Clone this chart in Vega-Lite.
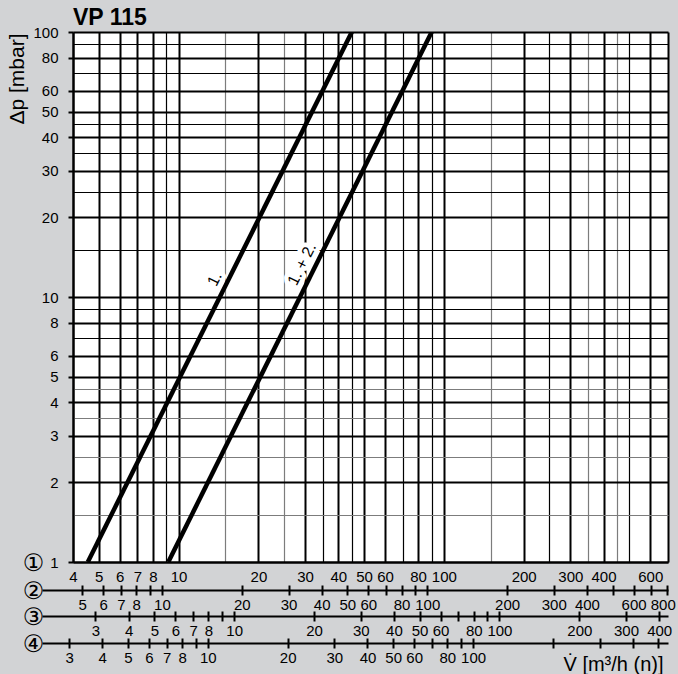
{
  "$schema": "https://vega.github.io/schema/vega-lite/v6.json",
  "width": 595,
  "height": 530,
  "autosize": {"type": "none"},
  "padding": {"left": 73, "top": 32, "right": 10, "bottom": 112},
  "background": "#d2d3d5",
  "config": {
    "view": {"fill": "white", "stroke": null},
    "font": "Liberation Sans",
    "axis": {
      "labelFont": "Liberation Sans",
      "labelColor": "black",
      "labelFontSize": 15,
      "domainColor": "black",
      "tickColor": "black",
      "titleColor": "black",
      "titleFontWeight": "normal",
      "labelFlush": false,
      "labelOverlap": false,
      "labelBound": false
    }
  },
  "title": {
    "text": "VP 115",
    "anchor": "start",
    "fontSize": 23,
    "fontWeight": "bold",
    "font": "Liberation Sans",
    "color": "black",
    "offset": 6,
    "dy": 29,
    "baseline": "alphabetic",
    "frame": "group"
  },
  "datasets": {
    "lines": [
      {"series": "1.", "v": 4.55, "dp": 1},
      {"series": "1.", "v": 45, "dp": 100},
      {"series": "1. + 2.", "v": 9.15, "dp": 1},
      {"series": "1. + 2.", "v": 90, "dp": 100}
    ],
    "labels": [
      {"label": "1.", "v": 13.7, "dp": 11.7},
      {"label": "1. + 2.", "v": 29.2, "dp": 13.3}
    ],
    "scale2": [{"q": 5}, {"q": 10}, {"q": 100}, {"q": 800}],
    "scale3": [{"q": 3}, {"q": 10}, {"q": 100}, {"q": 400}],
    "scale4": [{"q": 3}, {"q": 10}, {"q": 100}, {"q": 500}]
  },
  "layer": [
    {
      "layer": [
        {
          "data": {"name": "lines"},
          "mark": {"type": "line", "stroke": "black", "strokeWidth": 4.5, "strokeCap": "butt", "clip": true},
          "encoding": {
            "x": {
              "field": "v", "type": "quantitative",
              "scale": {"type": "log", "domain": [4, 700], "nice": false},
              "axis": {
                "orient": "bottom",
                "values": [4,5,6,7,8,9,10,15,20,25,30,35,40,45,50,60,70,80,90,100,150,200,250,300,350,400,450,500,600,700],
                "grid": true,
                "gridColor": {"condition": {"test": "indexof([15,25,150,350,450], datum.value) >= 0", "value": "#7c7c7c"}, "value": "black"},
                "gridWidth": {"condition": {"test": "indexof([9,15,25,35,45,70,90,150,250,350,450,500], datum.value) >= 0", "value": 1.2}, "value": 2},
                "gridOpacity": 1,
                "labelExpr": "indexof([4,5,6,7,8,10,20,30,40,50,60,80,100,200,300,400,600], datum.value) >= 0 ? format(datum.value, 'd') : ''",
                "ticks": false,
                "labelPadding": 7,
                "domain": true,
                "domainWidth": 2,
                "title": "①",
                "titleFont": "DejaVu Sans",
                "titleFontSize": 24,
                "titleX": -40,
                "titleY": 1,
                "titleAlign": "center",
                "titleBaseline": "middle",
                "titleAngle": 0
              }
            },
            "y": {
              "field": "dp", "type": "quantitative",
              "scale": {"type": "log", "domain": [1, 100], "nice": false},
              "axis": {
                "orient": "left",
                "values": [1,1.5,2,2.5,3,3.5,4,4.5,5,6,7,8,9,10,15,20,25,30,35,40,45,50,60,70,80,90,100],
                "grid": true,
                "gridColor": {"condition": {"test": "indexof([1.5,2.5,3.5,4.5], datum.value) >= 0", "value": "#7c7c7c"}, "value": "black"},
                "gridWidth": {"condition": {"test": "indexof([1.5,2.5,3.5,4.5,7,9,15,25,35,45,70,90], datum.value) >= 0", "value": 1.2}, "value": 2},
                "gridOpacity": 1,
                "labelExpr": "indexof([1,2,3,4,5,6,8,10,20,30,40,50,60,80,100], datum.value) >= 0 ? format(datum.value, 'd') : ''",
                "tickOpacity": {"condition": {"test": "indexof([1,2,3,4,5,6,8,10,20,30,40,50,60,80,100], datum.value) >= 0", "value": 1}, "value": 0},
                "tickSize": 5,
                "tickWidth": 2,
                "labelPadding": 10,
                "domain": true,
                "domainWidth": 2,
                "title": "Δp [mbar]",
                "titleFontSize": 21,
                "titleX": -56,
                "titleY": 1,
                "titleAngle": -90,
                "titleAlign": "right",
                "titleBaseline": "middle"
              }
            },
            "detail": {"field": "series"}
          }
        },
        {
          "data": {"name": "labels"},
          "mark": {"type": "text", "fontSize": 16, "angle": 296.6, "align": "center", "baseline": "middle", "fill": "white", "stroke": "white", "strokeWidth": 9, "strokeJoin": "round"},
          "encoding": {
            "x": {"field": "v", "type": "quantitative"},
            "y": {"field": "dp", "type": "quantitative"},
            "text": {"field": "label"}
          }
        },
        {
          "data": {"name": "labels"},
          "mark": {"type": "text", "fontSize": 16, "angle": 296.6, "align": "center", "baseline": "middle", "fill": "black"},
          "encoding": {
            "x": {"field": "v", "type": "quantitative"},
            "y": {"field": "dp", "type": "quantitative"},
            "text": {"field": "label"}
          }
        }
      ]
    },
    {
      "data": {"name": "scale2"},
      "mark": {"type": "point", "opacity": 0},
      "encoding": {
        "x": {
          "field": "q", "type": "quantitative",
          "scale": {"type": "log", "domain": [3.53, 808.5], "range": [-31, 595], "nice": false},
          "axis": {
            "orient": "bottom", "offset": 23, "domain": false, "grid": false,
            "ticks": true, "tickSize": 10, "tickWidth": 2,
            "values": [5,6,7,8,9,10,20,30,40,50,60,70,80,90,100,200,300,400,500,600,700,800],
            "labelExpr": "indexof([9,70,90,500,700], datum.value) >= 0 ? '' : format(datum.value, 'd')",
            "labelOffset": {"condition": {"test": "datum.value == 800", "value": -4}, "value": 0},
            "labelPadding": 2, "title": null
          }
        }
      }
    },
    {
      "data": {"name": "scale2"},
      "mark": {"type": "point", "opacity": 0},
      "encoding": {
        "x": {
          "field": "q", "type": "quantitative",
          "scale": {"type": "log", "domain": [3.53, 808.5], "range": [-31, 595], "nice": false},
          "axis": {
            "orient": "bottom", "offset": 28, "domain": true, "domainWidth": 2, "grid": false,
            "ticks": false, "labels": false,
            "title": "②", "titleFont": "DejaVu Sans", "titleFontSize": 24,
            "titleX": -40, "titleY": 1, "titleAlign": "center", "titleBaseline": "middle", "titleAngle": 0
          }
        }
      }
    },
    {
      "data": {"name": "scale3"},
      "mark": {"type": "point", "opacity": 0},
      "encoding": {
        "x": {
          "field": "q", "type": "quantitative",
          "scale": {"type": "log", "domain": [1.886, 431.9], "range": [-31, 595], "nice": false},
          "axis": {
            "orient": "bottom", "offset": 49, "domain": false, "grid": false,
            "ticks": true, "tickSize": 10, "tickWidth": 2,
            "values": [3,4,5,6,7,8,9,10,20,30,40,50,60,70,80,90,100,200,300,400],
            "labelExpr": "indexof([9,70,90], datum.value) >= 0 ? '' : format(datum.value, 'd')",
            "labelPadding": 2, "title": null
          }
        }
      }
    },
    {
      "data": {"name": "scale3"},
      "mark": {"type": "point", "opacity": 0},
      "encoding": {
        "x": {
          "field": "q", "type": "quantitative",
          "scale": {"type": "log", "domain": [1.886, 431.9], "range": [-31, 595], "nice": false},
          "axis": {
            "orient": "bottom", "offset": 54, "domain": true, "domainWidth": 2, "grid": false,
            "ticks": false, "labels": false,
            "title": "③", "titleFont": "DejaVu Sans", "titleFontSize": 24,
            "titleX": -40, "titleY": 1, "titleAlign": "center", "titleBaseline": "middle", "titleAngle": 0
          }
        }
      }
    },
    {
      "data": {"name": "scale4"},
      "mark": {"type": "point", "opacity": 0},
      "encoding": {
        "x": {
          "field": "q", "type": "quantitative",
          "scale": {"type": "log", "domain": [2.371, 543.2], "range": [-31, 595], "nice": false},
          "axis": {
            "orient": "bottom", "offset": 76, "domain": false, "grid": false,
            "ticks": true, "tickSize": 10, "tickWidth": 2,
            "values": [3,4,5,6,7,8,9,10,20,30,40,50,60,70,80,90,100,200,300,400,500],
            "labelExpr": "indexof([3,4,5,6,7,8,10,20,30,40,50,60,80,100], datum.value) >= 0 ? format(datum.value, 'd') : ''",
            "labelPadding": 2,
            "title": "V̇ [m³/h (n)]",
            "titleFontSize": 20,
            "titleX": 590, "titleY": 32, "titleAlign": "right", "titleBaseline": "alphabetic", "titleAngle": 0
          }
        }
      }
    },
    {
      "data": {"name": "scale4"},
      "mark": {"type": "point", "opacity": 0},
      "encoding": {
        "x": {
          "field": "q", "type": "quantitative",
          "scale": {"type": "log", "domain": [2.371, 543.2], "range": [-31, 595], "nice": false},
          "axis": {
            "orient": "bottom", "offset": 81, "domain": true, "domainWidth": 2, "grid": false,
            "ticks": false, "labels": false,
            "title": "④", "titleFont": "DejaVu Sans", "titleFontSize": 24,
            "titleX": -40, "titleY": 1, "titleAlign": "center", "titleBaseline": "middle", "titleAngle": 0
          }
        }
      }
    }
  ],
  "resolve": {"scale": {"x": "independent"}}
}
